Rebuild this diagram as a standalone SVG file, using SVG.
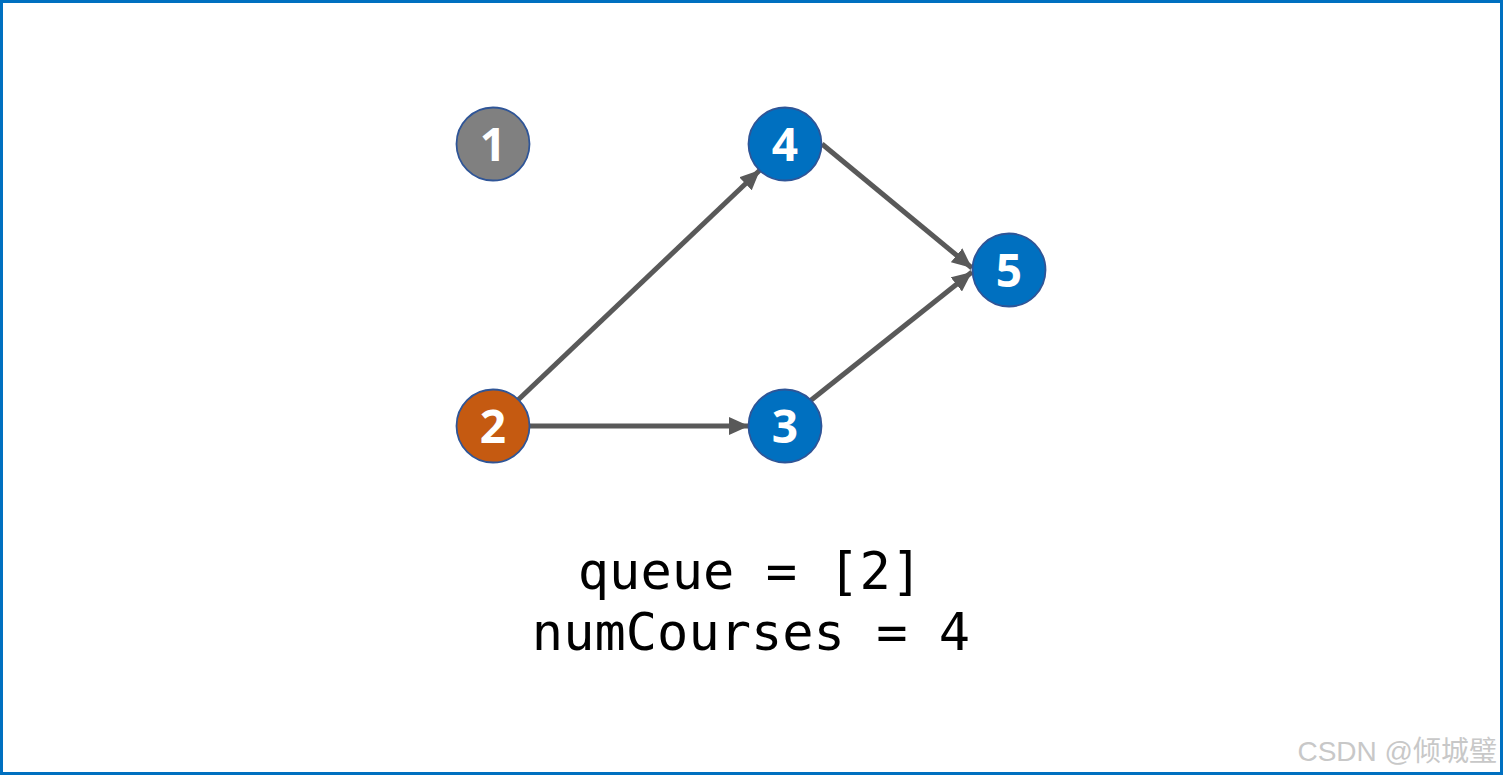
<svg xmlns="http://www.w3.org/2000/svg" width="1503" height="777" viewBox="0 0 1503 777">
<defs>
<style>
.node circle{stroke:#2F5597;stroke-width:1.8}
.node text{font-family:"Open Sans","Noto Sans",sans-serif;font-weight:bold;font-size:46px;fill:#fff;text-anchor:middle}
.edge{stroke:#595959;stroke-width:5;fill:none;marker-end:url(#arr)}
.code{font-family:"DejaVu Sans Mono","Liberation Mono",monospace;font-size:52px;fill:#000;text-anchor:middle}
</style>
<marker id="arr" markerUnits="userSpaceOnUse" markerWidth="22" markerHeight="18" refX="20" refY="9" orient="auto">
<path d="M0,0 L20,9 L0,18 Z" fill="#595959"/>
</marker>
</defs>
<rect x="1.5" y="1.5" width="1500" height="772" fill="#fff" stroke="#0070C0" stroke-width="3"/>
<g id="connectors">
<line class="edge" x1="518" y1="400" x2="760" y2="170"/>
<line class="edge" x1="529" y1="426" x2="749" y2="426"/>
<line class="edge" x1="822" y1="144" x2="972" y2="268"/>
<line class="edge" x1="810" y1="401" x2="972" y2="272"/>
</g>
<g id="node1" class="node"><circle cx="493" cy="144" r="36.5" fill="#808080"/><text x="493" y="161">1</text></g>
<g id="node4" class="node"><circle cx="785" cy="144" r="36.5" fill="#0070C0"/><text x="785" y="161">4</text></g>
<g id="node5" class="node"><circle cx="1009" cy="270" r="36.5" fill="#0070C0"/><text x="1009" y="287">5</text></g>
<g id="node2" class="node"><circle cx="493" cy="426" r="36.5" fill="#C55A11"/><text x="493" y="443">2</text></g>
<g id="node3" class="node"><circle cx="785" cy="426" r="36.5" fill="#0070C0"/><text x="785" y="443">3</text></g>
<g id="caption">
<text class="code" x="750" y="589">queue = [2]</text>
<text class="code" x="751" y="650">numCourses = 4</text>
</g>
<text x="1497" y="761" text-anchor="end" font-family="'Liberation Sans','Noto Sans CJK SC',sans-serif" font-size="28" fill="#c8c8c8">CSDN @倾城璧</text>
</svg>
